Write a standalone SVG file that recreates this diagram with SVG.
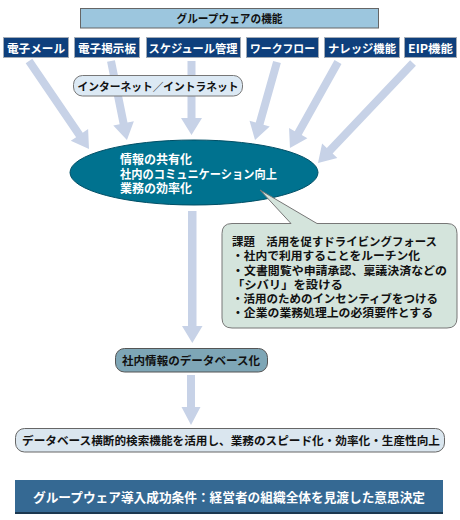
<svg xmlns="http://www.w3.org/2000/svg" width="460" height="520" viewBox="0 0 460 520">
<style>
text{font-family:"Noto Sans CJK JP","Liberation Sans",sans-serif;font-weight:bold}
.fn rect{fill:#0e3f7c;stroke:#a3abb5;stroke-width:1}
.fn text{fill:#fff;font-size:11.8px;text-anchor:middle}
.arr{fill:#c7d2e7}
.blk{fill:#111;font-size:11.6px}
.wht{fill:#fff;font-size:12px}
</style>
<rect width="460" height="520" fill="#fff"/>
<g id="connectors">
<polygon class="arr" transform="translate(29,61) rotate(-34.3)" points="-4,0 4,0 4,89.5 10.5,89.5 0,106.5 -10.5,89.5 -4,89.5"/>
<polygon class="arr" transform="translate(111,61) rotate(-11.4)" points="-4,0 4,0 4,63.6 10.5,63.6 0,80.6 -10.5,63.6 -4,63.6"/>
<polygon class="arr" transform="translate(191.5,61)" points="-4,0 4,0 4,57 10.5,57 0,74 -10.5,57 -4,57"/>
<polygon class="arr" transform="translate(277,62) rotate(15.75)" points="-4,0 4,0 4,64 10.5,64 0,81 -10.5,64 -4,64"/>
<polygon class="arr" transform="translate(338,62) rotate(29.2)" points="-4,0 4,0 4,81.5 10.5,81.5 0,98.5 -10.5,81.5 -4,81.5"/>
<polygon class="arr" transform="translate(413,63) rotate(43.5)" points="-4,0 4,0 4,121 10.5,121 0,138 -10.5,121 -4,121"/>
<polygon class="arr" points="188,211 196.5,211 196.5,326 202.5,326 192.3,343 182,326 188,326"/>
<polygon class="arr" points="187,375 195,375 195,407 200.5,407 191,425 181.5,407 187,407"/>
</g>
<g id="title">
<rect x="80.5" y="8.5" width="298" height="19.5" fill="#9cc6de" stroke="#666" stroke-width="1"/>
<text x="229.5" y="23" font-size="11.5" fill="#111" text-anchor="middle" textLength="106" lengthAdjust="spacingAndGlyphs">グループウェアの機能</text>
</g>
<g id="f1" class="fn"><rect x="3.5" y="37.5" width="65" height="20"/><text x="36" y="53" textLength="58" lengthAdjust="spacingAndGlyphs">電子メール</text></g>
<g id="f2" class="fn"><rect x="74.5" y="37.5" width="65" height="20"/><text x="107" y="53" textLength="58" lengthAdjust="spacingAndGlyphs">電子掲示板</text></g>
<g id="f3" class="fn"><rect x="146.5" y="37.5" width="94" height="20"/><text x="193" y="53" textLength="89" lengthAdjust="spacingAndGlyphs">スケジュール管理</text></g>
<g id="f4" class="fn"><rect x="246.5" y="37.5" width="72" height="20"/><text x="282.5" y="53" textLength="65" lengthAdjust="spacingAndGlyphs">ワークフロー</text></g>
<g id="f5" class="fn"><rect x="324.5" y="37.5" width="75" height="20"/><text x="362" y="53" textLength="68" lengthAdjust="spacingAndGlyphs">ナレッジ機能</text></g>
<g id="f6" class="fn"><rect x="404.5" y="37.5" width="52" height="20"/><text x="430.5" y="53" textLength="45" lengthAdjust="spacingAndGlyphs">EIP機能</text></g>
<g id="intranet">
<rect x="73.5" y="75.5" width="169" height="20.5" rx="9" fill="#dce9f4" stroke="#777" stroke-width="1"/>
<text x="158" y="91" font-size="11" fill="#111" text-anchor="middle" textLength="161" lengthAdjust="spacingAndGlyphs">インターネット／イントラネット</text>
</g>
<g id="goals">
<ellipse cx="194" cy="172.5" rx="124" ry="32.5" fill="#00728f" stroke="#004f66" stroke-width="1"/>
<text class="wht" x="120" y="164">情報の共有化</text>
<text class="wht" x="120" y="178.5" textLength="157" lengthAdjust="spacingAndGlyphs">社内のコミュニケーション向上</text>
<text class="wht" x="120" y="193">業務の効率化</text>
</g>
<g id="issues">
<path d="M232,223.5 L291,223.5 L260,190 L317,223.5 L447,223.5 Q457,223.5 457,233.5 L457,318 Q457,328 447,328 L232,328 Q222,328 222,318 L222,233.5 Q222,223.5 232,223.5 Z" fill="#d4e4dc" stroke="#777" stroke-width="1"/>
<text class="blk" x="232" y="246" textLength="205" lengthAdjust="spacingAndGlyphs">課題　活用を促すドライビングフォース</text>
<text class="blk" x="232" y="260" textLength="188" lengthAdjust="spacingAndGlyphs">・社内で利用することをルーチン化</text>
<text class="blk" x="232" y="274.5" textLength="215" lengthAdjust="spacingAndGlyphs">・文書閲覧や申請承認、稟議決済などの</text>
<text class="blk" x="232" y="288.5" textLength="111" lengthAdjust="spacingAndGlyphs">「シバリ」を設ける</text>
<text class="blk" x="232" y="302.5" textLength="206" lengthAdjust="spacingAndGlyphs">・活用のためのインセンティブをつける</text>
<text class="blk" x="232" y="317" textLength="201" lengthAdjust="spacingAndGlyphs">・企業の業務処理上の必須要件とする</text>
</g>
<g id="database">
<rect x="115.5" y="348.5" width="152" height="23.5" rx="9" fill="#7ea6b6" stroke="#555" stroke-width="1"/>
<text x="191" y="364.5" font-size="11.5" fill="#111" text-anchor="middle" textLength="138" lengthAdjust="spacingAndGlyphs">社内情報のデータベース化</text>
</g>
<g id="search">
<rect x="15.5" y="428.5" width="429" height="23.5" rx="9" fill="#dae6ef" stroke="#666" stroke-width="1"/>
<text x="231" y="445" font-size="11.3" fill="#111" text-anchor="middle" textLength="418" lengthAdjust="spacingAndGlyphs">データベース横断的検索機能を活用し、業務のスピード化・効率化・生産性向上</text>
</g>
<g id="condition">
<rect x="15" y="481" width="428" height="33" fill="#1c3850"/>
<rect x="15" y="480" width="428" height="32" fill="#356993"/>
<text x="229" y="502" font-size="12.6" fill="#fff" text-anchor="middle" textLength="392" lengthAdjust="spacingAndGlyphs">グループウェア導入成功条件：経営者の組織全体を見渡した意思決定</text>
</g>
</svg>
